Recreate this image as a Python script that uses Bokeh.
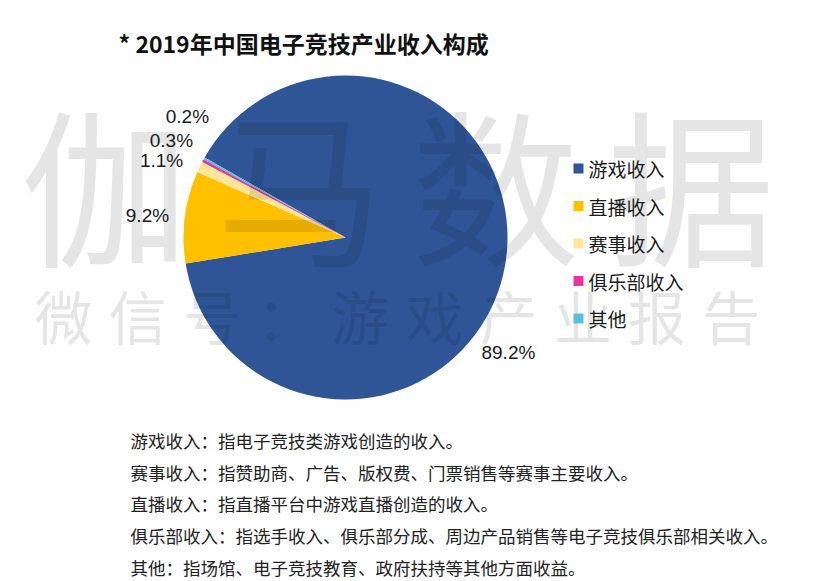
import numpy as np
from bokeh.plotting import figure
from bokeh.models import Range1d, ColumnDataSource
from bokeh.embed import file_html
from bokeh.resources import INLINE
from bokeh.core.properties import value

# ---------------- data ----------------
title = "* 2019年中国电子竞技产业收入构成"
categories = ["游戏收入", "直播收入", "赛事收入", "俱乐部收入", "其他"]
shares = [89.2, 9.2, 1.1, 0.3, 0.2]
labels = ["89.2%", "9.2%", "1.1%", "0.3%", "0.2%"]
colors = ["#2F5597", "#FFC000", "#FFE699", "#E8359E", "#5BC0E0"]
notes = [
    "游戏收入：指电子竞技类游戏创造的收入。",
    "赛事收入：指赞助商、广告、版权费、门票销售等赛事主要收入。",
    "直播收入：指直播平台中游戏直播创造的收入。",
    "俱乐部收入：指选手收入、俱乐部分成、周边产品销售等电子竞技俱乐部相关收入。",
    "其他：指场馆、电子竞技教育、政府扶持等其他方面收益。",
]
wm_big = "伽马数据"
wm_small = "微信号：游戏产业报告"

# ---------------- layout ----------------
W, H = 816, 581
CX, CY, R = 345, 237, 162          # pie centre / radius in pixels
START_DEG = 150.4                  # angle of first slice edge
LABEL_R = 1.23
label_nudge_deg = [-25.0, 1.0, 3.2, -0.75, -8.25]

def px(x):
    return (x - CX) / R

def py(y):
    return (CY - y) / R

p = figure(width=W, height=H,
           x_range=Range1d(px(0), px(W)), y_range=Range1d(py(H), py(0)),
           output_backend="svg", toolbar_location=None,
           x_axis_type=None, y_axis_type=None,
           min_border=0, min_border_left=0, min_border_right=0,
           min_border_top=0, min_border_bottom=0)
p.grid.visible = False
p.outline_line_color = None
p.background_fill_color = "white"
p.border_fill_color = "white"

# ---------------- pie ----------------
vals = np.array(shares, dtype=float)
ang = vals / vals.sum() * 2 * np.pi
cum_after = np.cumsum(ang)
cum_before = cum_after - ang
start0 = np.deg2rad(START_DEG)
end_angles = start0 - cum_before
start_angles = start0 - cum_after
mid = (start_angles + end_angles) / 2

src = ColumnDataSource(dict(start=start_angles, end=end_angles, color=colors,
                            cat=categories))
p.wedge(x=0, y=0, radius=1, start_angle="start", end_angle="end",
        fill_color="color", line_color=None, source=src)

# ---------------- watermark ----------------
big_x = [px(104 + 195.5 * i) for i in range(len(wm_big))]
p.text(x=big_x, y=[py(180)] * len(wm_big), text=list(wm_big),
       text_font=value("Noto Sans CJK SC"), text_font_size="168px",
       text_align="center", text_baseline="middle",
       text_color="black", text_alpha=0.1)
small_x = [px(63 + 74.2 * i) for i in range(len(wm_small))]
p.text(x=small_x, y=[py(314)] * len(wm_small), text=list(wm_small),
       text_font=value("Noto Sans CJK SC"), text_font_size="58px",
       text_align="center", text_baseline="middle",
       text_color="black", text_alpha=0.1)

# ---------------- data labels ----------------
la = mid + np.deg2rad(label_nudge_deg)
p.text(x=LABEL_R * np.cos(la), y=LABEL_R * np.sin(la), text=labels,
       text_font=value("Liberation Sans"), text_font_size="19px",
       text_align="center", text_baseline="middle", text_color="#1a1a1a")

# ---------------- legend ----------------
n = len(categories)
ly = [py(168 + 37.5 * i) for i in range(n)]
p.scatter(x=[px(578)] * n, y=ly, marker="square", size=10,
          fill_color=colors, line_color=None)
p.text(x=[px(588)] * n, y=ly, text=categories,
       text_font=value("Noto Sans CJK SC"), text_font_size="19px",
       text_align="left", text_baseline="middle", text_color="#1a1a1a")

# ---------------- title ----------------
p.text(x=[px(118)], y=[py(42)], text=[title],
       text_font=value("Noto Sans CJK SC"), text_font_size="23px",
       text_font_style="bold", text_align="left", text_baseline="middle",
       text_color="#111111")

# ---------------- notes ----------------
ny = [py(440 + 31.7 * i) for i in range(len(notes))]
p.text(x=[px(130)] * len(notes), y=ny, text=notes,
       text_font=value("Noto Sans CJK SC"), text_font_size="17.5px",
       text_align="left", text_baseline="middle", text_color="#222222")

open("out.html", "w").write(file_html(p, INLINE))
